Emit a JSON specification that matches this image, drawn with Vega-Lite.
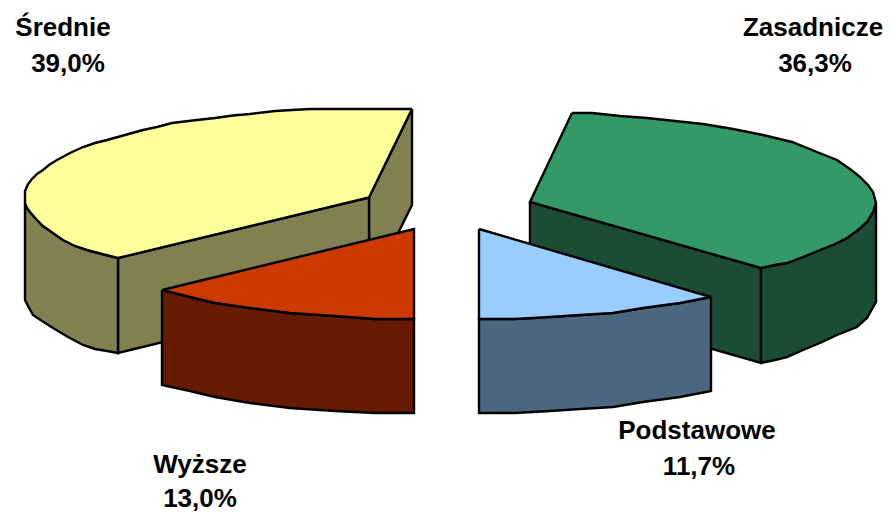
{"$schema":"https://vega.github.io/schema/vega-lite/v6.json","width":891,"height":512,"padding":0,"autosize":{"type":"fit","contains":"padding"},"background":"white","view":{"stroke":null},
"datasets":{"shapes":[
{"p":"a1","x":369,"y":197.5},{"p":"a1","x":412,"y":109},{"p":"a1","x":412,"y":205},{"p":"a1","x":369,"y":292},{"p":"a1","x":369,"y":197.5},
{"p":"a2","x":118,"y":258},{"p":"a2","x":369,"y":197.5},{"p":"a2","x":369,"y":292},{"p":"a2","x":118,"y":353},{"p":"a2","x":118,"y":258},
{"p":"a3","x":25,"y":203},{"p":"a3","x":27,"y":208},{"p":"a3","x":30,"y":212},{"p":"a3","x":36,"y":219},{"p":"a3","x":43,"y":226},{"p":"a3","x":53,"y":233},{"p":"a3","x":63,"y":240},{"p":"a3","x":75,"y":246},{"p":"a3","x":87,"y":250},{"p":"a3","x":102,"y":254},{"p":"a3","x":118,"y":258},{"p":"a3","x":118,"y":353},{"p":"a3","x":107,"y":351},{"p":"a3","x":95,"y":349},{"p":"a3","x":83,"y":345},{"p":"a3","x":68,"y":337},{"p":"a3","x":53,"y":328},{"p":"a3","x":42,"y":321},{"p":"a3","x":33,"y":315},{"p":"a3","x":28,"y":306},{"p":"a3","x":25,"y":300},{"p":"a3","x":25,"y":203},
{"p":"a4","x":412,"y":109},{"p":"a4","x":310,"y":109},{"p":"a4","x":292,"y":110},{"p":"a4","x":275,"y":111},{"p":"a4","x":250,"y":114},{"p":"a4","x":233,"y":115.5},{"p":"a4","x":215,"y":118},{"p":"a4","x":197,"y":120},{"p":"a4","x":172,"y":123},{"p":"a4","x":157,"y":127},{"p":"a4","x":143,"y":130},{"p":"a4","x":125,"y":135},{"p":"a4","x":107,"y":140},{"p":"a4","x":95,"y":143},{"p":"a4","x":83,"y":147},{"p":"a4","x":70,"y":153},{"p":"a4","x":57,"y":160},{"p":"a4","x":49,"y":165},{"p":"a4","x":43,"y":170},{"p":"a4","x":37,"y":174},{"p":"a4","x":32,"y":179},{"p":"a4","x":28,"y":184},{"p":"a4","x":25,"y":191},{"p":"a4","x":25,"y":203},{"p":"a4","x":27,"y":208},{"p":"a4","x":30,"y":212},{"p":"a4","x":36,"y":219},{"p":"a4","x":43,"y":226},{"p":"a4","x":53,"y":233},{"p":"a4","x":63,"y":240},{"p":"a4","x":75,"y":246},{"p":"a4","x":87,"y":250},{"p":"a4","x":102,"y":254},{"p":"a4","x":118,"y":258},{"p":"a4","x":369,"y":197.5},{"p":"a4","x":412,"y":109},
{"p":"b1","x":530,"y":202},{"p":"b1","x":761,"y":268},{"p":"b1","x":761,"y":363},{"p":"b1","x":530,"y":297},{"p":"b1","x":530,"y":202},
{"p":"b2","x":876,"y":203},{"p":"b2","x":873,"y":212},{"p":"b2","x":867,"y":222},{"p":"b2","x":858,"y":230},{"p":"b2","x":847,"y":238},{"p":"b2","x":835,"y":244},{"p":"b2","x":820,"y":250},{"p":"b2","x":803,"y":257},{"p":"b2","x":787,"y":263},{"p":"b2","x":775,"y":265},{"p":"b2","x":761,"y":268},{"p":"b2","x":761,"y":363},{"p":"b2","x":775,"y":360},{"p":"b2","x":787,"y":357},{"p":"b2","x":803,"y":350},{"p":"b2","x":820,"y":343},{"p":"b2","x":837,"y":335},{"p":"b2","x":857,"y":327},{"p":"b2","x":867,"y":318},{"p":"b2","x":876,"y":302},{"p":"b2","x":876,"y":203},
{"p":"b3","x":572,"y":113},{"p":"b3","x":592,"y":113},{"p":"b3","x":620,"y":116},{"p":"b3","x":647,"y":118},{"p":"b3","x":675,"y":121},{"p":"b3","x":703,"y":124},{"p":"b3","x":733,"y":129},{"p":"b3","x":763,"y":135},{"p":"b3","x":792,"y":142},{"p":"b3","x":817,"y":152},{"p":"b3","x":837,"y":160},{"p":"b3","x":850,"y":169},{"p":"b3","x":860,"y":177},{"p":"b3","x":868,"y":185},{"p":"b3","x":873,"y":192},{"p":"b3","x":876,"y":203},{"p":"b3","x":873,"y":212},{"p":"b3","x":867,"y":222},{"p":"b3","x":858,"y":230},{"p":"b3","x":847,"y":238},{"p":"b3","x":835,"y":244},{"p":"b3","x":820,"y":250},{"p":"b3","x":803,"y":257},{"p":"b3","x":787,"y":263},{"p":"b3","x":775,"y":265},{"p":"b3","x":761,"y":268},{"p":"b3","x":530,"y":202},{"p":"b3","x":572,"y":113},
{"p":"c1","x":162,"y":290},{"p":"c1","x":190,"y":297},{"p":"c1","x":215,"y":303},{"p":"c1","x":250,"y":308},{"p":"c1","x":290,"y":313},{"p":"c1","x":335,"y":316},{"p":"c1","x":375,"y":319},{"p":"c1","x":414,"y":319},{"p":"c1","x":414,"y":413},{"p":"c1","x":375,"y":413},{"p":"c1","x":335,"y":411},{"p":"c1","x":290,"y":408},{"p":"c1","x":250,"y":403},{"p":"c1","x":215,"y":397},{"p":"c1","x":190,"y":391},{"p":"c1","x":162,"y":385},{"p":"c1","x":162,"y":290},
{"p":"c2","x":162,"y":290},{"p":"c2","x":414,"y":229},{"p":"c2","x":414,"y":319},{"p":"c2","x":375,"y":319},{"p":"c2","x":335,"y":316},{"p":"c2","x":290,"y":313},{"p":"c2","x":250,"y":308},{"p":"c2","x":215,"y":303},{"p":"c2","x":190,"y":297},{"p":"c2","x":162,"y":290},
{"p":"d1","x":711,"y":297},{"p":"d1","x":680,"y":303},{"p":"d1","x":643,"y":308},{"p":"d1","x":613,"y":313},{"p":"d1","x":580,"y":315},{"p":"d1","x":550,"y":317},{"p":"d1","x":515,"y":319},{"p":"d1","x":479,"y":319},{"p":"d1","x":479,"y":413},{"p":"d1","x":515,"y":413},{"p":"d1","x":550,"y":411},{"p":"d1","x":580,"y":409},{"p":"d1","x":613,"y":407},{"p":"d1","x":643,"y":402},{"p":"d1","x":680,"y":397},{"p":"d1","x":711,"y":391},{"p":"d1","x":711,"y":297},
{"p":"d2","x":479,"y":229},{"p":"d2","x":711,"y":297},{"p":"d2","x":680,"y":303},{"p":"d2","x":643,"y":308},{"p":"d2","x":613,"y":313},{"p":"d2","x":580,"y":315},{"p":"d2","x":550,"y":317},{"p":"d2","x":515,"y":319},{"p":"d2","x":479,"y":319},{"p":"d2","x":479,"y":229}
],"labels":[
{"t":"Średnie","x":63,"y":36},{"t":"39,0%","x":68,"y":72},
{"t":"Zasadnicze","x":813,"y":36},{"t":"36,3%","x":815,"y":72},
{"t":"Podstawowe","x":697,"y":439},{"t":"11,7%","x":699,"y":475},
{"t":"Wyższe","x":200,"y":473},{"t":"13,0%","x":200,"y":507}
]},
"layer":[
{"data":{"name":"shapes"},"mark":{"type":"line","filled":true,"stroke":"black","strokeWidth":2.4,"strokeJoin":"miter","point":false},
"encoding":{"x":{"field":"x","type":"quantitative","sort":null,"scale":{"domain":[0,891],"nice":false,"zero":false},"axis":null},"y":{"field":"y","type":"quantitative","sort":null,"scale":{"domain":[512,0],"nice":false,"zero":false},"axis":null},"order":{"field":"i"},"detail":{"field":"p"},
"fill":{"field":"p","type":"nominal","legend":null,"scale":{"domain":["a1","a2","a3","a4","b1","b2","b3","c1","c2","d1","d2"],"range":["#808050","#808050","#808050","#FFFF99","#1A4D33","#1A4D33","#339966","#661A00","#CC3A00","#4D6680","#99CCFF"]}}}},
{"data":{"name":"labels"},"mark":{"type":"text","font":"Liberation Sans","fontWeight":"bold","fontSize":26,"align":"center","baseline":"alphabetic","color":"black"},
"encoding":{"x":{"field":"x","type":"quantitative","scale":{"domain":[0,891],"nice":false,"zero":false},"axis":null},"y":{"field":"y","type":"quantitative","scale":{"domain":[512,0],"nice":false,"zero":false},"axis":null},"text":{"field":"t"}}}
]}
